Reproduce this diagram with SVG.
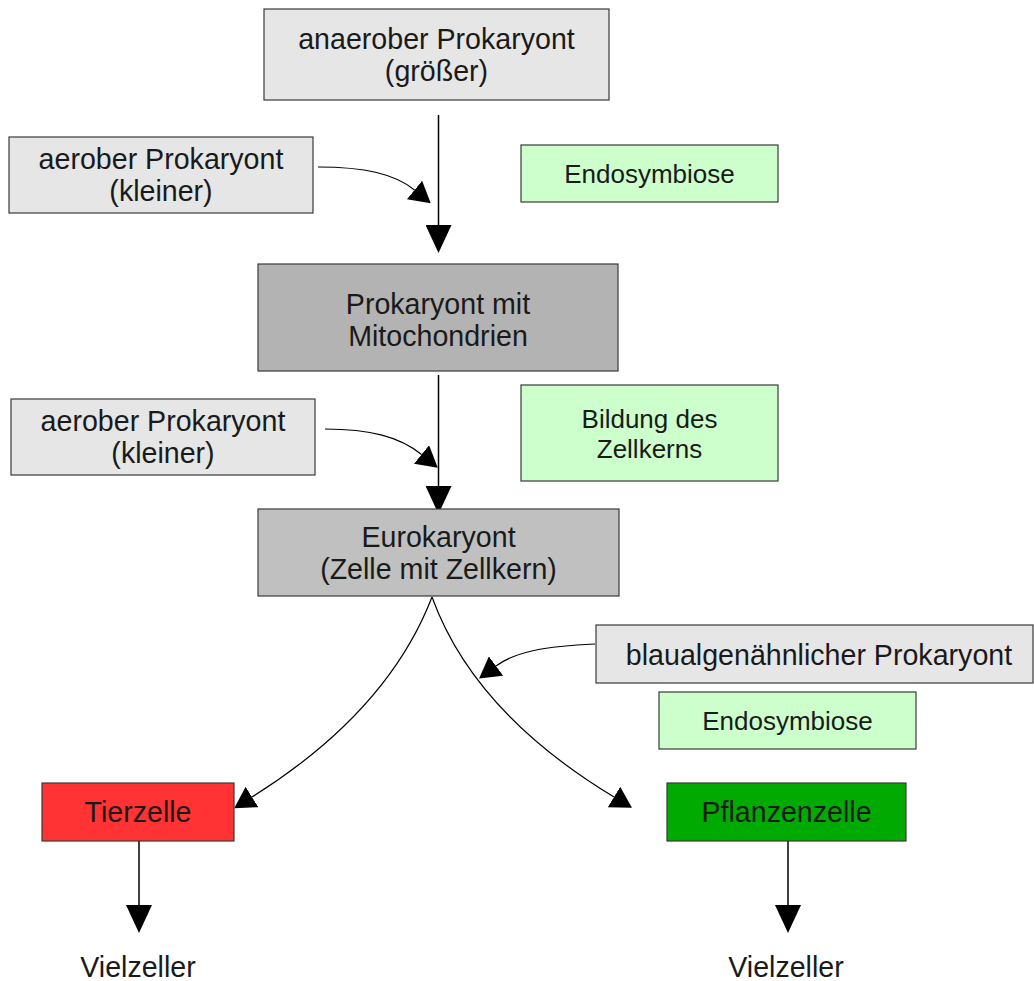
<svg xmlns="http://www.w3.org/2000/svg" width="1034" height="981" viewBox="0 0 1034 981">
<style>
.box{stroke:#3a3a3a;stroke-width:1.2}
.light{fill:#e6e6e6}
.dark{fill:#b3b3b3}
.euk{fill:#c0c0c0}
.green{fill:#ccffcc}
.t{font-family:"Liberation Sans",Arial,sans-serif;font-size:28.6px;fill:#1a1a1a;text-anchor:middle}
.s{font-size:26px}
.c{fill:none;stroke:#000;stroke-width:1.5}
.cc{fill:none;stroke:#000;stroke-width:1.2}
</style>
<defs>
<marker id="big" markerUnits="userSpaceOnUse" viewBox="0 0 28 26" markerWidth="28" markerHeight="26" refX="0" refY="13" orient="auto"><path d="M0,0 L28,13 L0,26 z" fill="#000"/></marker>
<marker id="small" markerUnits="userSpaceOnUse" viewBox="0 0 21 24" markerWidth="21" markerHeight="24" refX="0" refY="12" orient="auto"><path d="M0,0 L21,12 L0,24 z" fill="#000"/></marker>
</defs>
<rect width="1034" height="981" fill="#fff"/>
<g id="connectors">
<path class="c" d="M438.5,115 L438.5,225" marker-end="url(#big)"/>
<path class="c" d="M438.5,375 L438.5,486" marker-end="url(#big)"/>
<path class="cc" d="M318,167 C365,167 395,174 414.5,190" marker-end="url(#small)"/>
<path class="cc" d="M325,429 C370,429 400,437 421.5,454.5" marker-end="url(#small)"/>
<path class="cc" d="M595,644 C545,646 515,652 496,666" marker-end="url(#small)"/>
<path class="cc" d="M432,597 C400,680 335,745 252,797" marker-end="url(#small)"/>
<path class="cc" d="M432,597 C462,680 528,745 614,797" marker-end="url(#small)"/>
<path class="c" d="M139,841 L139,905" marker-end="url(#big)"/>
<path class="c" d="M788,841 L788,905" marker-end="url(#big)"/>
</g>
<g id="anaerob">
<rect class="box light" x="264" y="9" width="345" height="91"/>
<text class="t" x="436.5" y="49">anaerober Prokaryont</text>
<text class="t" x="436.5" y="81">(größer)</text>
</g>
<g id="aerob1">
<rect class="box light" x="9" y="137" width="304" height="76"/>
<text class="t" x="161" y="169">aerober Prokaryont</text>
<text class="t" x="161" y="201">(kleiner)</text>
</g>
<g id="endo1">
<rect class="box green" x="521" y="145" width="257" height="57"/>
<text class="t s" x="649.5" y="183">Endosymbiose</text>
</g>
<g id="mito">
<rect class="box dark" x="258" y="264" width="360" height="107"/>
<text class="t" x="438" y="314">Prokaryont mit</text>
<text class="t" x="438" y="346">Mitochondrien</text>
</g>
<g id="aerob2">
<rect class="box light" x="11" y="399" width="304" height="76"/>
<text class="t" x="163" y="431">aerober Prokaryont</text>
<text class="t" x="163" y="463">(kleiner)</text>
</g>
<g id="zellkern">
<rect class="box green" x="521" y="385" width="257" height="96"/>
<text class="t s" x="649.5" y="428">Bildung des</text>
<text class="t s" x="649.5" y="458">Zellkerns</text>
</g>
<g id="euk">
<rect class="box euk" x="258" y="509" width="361" height="87"/>
<text class="t" x="438.5" y="547">Eurokaryont</text>
<text class="t" x="438.5" y="579">(Zelle mit Zellkern)</text>
</g>
<g id="blaualgen">
<rect class="box light" x="596" y="625" width="437" height="58"/>
<text class="t" x="819" y="665">blaualgenähnlicher Prokaryont</text>
</g>
<g id="endo2">
<rect class="box green" x="659" y="692" width="257" height="57"/>
<text class="t s" x="787.5" y="730">Endosymbiose</text>
</g>
<g id="tier">
<rect class="box" fill="#ff3333" x="42" y="783" width="192" height="58"/>
<text class="t" x="138" y="822">Tierzelle</text>
</g>
<g id="pflanze">
<rect class="box" fill="#00aa00" x="667" y="783" width="239" height="58"/>
<text class="t" x="786.5" y="822">Pflanzenzelle</text>
</g>
<g id="viel1"><text class="t" x="138" y="977">Vielzeller</text></g>
<g id="viel2"><text class="t" x="786" y="977">Vielzeller</text></g>
</svg>
